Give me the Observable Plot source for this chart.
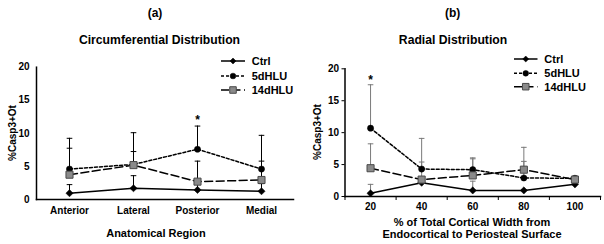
<!DOCTYPE html>
<html><head><meta charset="utf-8">
<script src="https://cdn.jsdelivr.net/npm/d3@7"></script>
<script src="https://cdn.jsdelivr.net/npm/@observablehq/plot@0.6"></script>
<style>
body{margin:0;background:#fff;}
#root{position:relative;width:604px;height:244px;overflow:hidden;font-family:"Liberation Sans",Arial,sans-serif;}
#root > svg{position:absolute;top:0;}
</style></head><body><div id="root"></div>
<script>
// ---- Panel (a): circumferential distribution
const regions = ["Anterior", "Lateral", "Posterior", "Medial"];
const ctrlA = [0.95, 1.7, 1.45, 1.25];
const ctrlAUpper = [2.25, 3.6, 2.5, 2.4];
const d5A = [4.6, 5.3, 7.6, 4.6];
const d5AUpper = [9.25, 10.1, 11.1, 9.7];
const d14A = [3.75, 5.2, 2.7, 2.95];
const d14AUpper = [7.75, 7.25, 5.8, 5.8];
const starA = ["Posterior"];

// ---- Panel (b): radial distribution
const widths = [20, 40, 60, 80, 100];
const ctrlB = [0.5, 2.15, 0.95, 0.95, 1.9];
const ctrlBUpper = [1.9, 2.5, 2.4, 1.1, 2.2];
const d5B = [10.7, 4.3, 4.2, 2.9, 2.85];
const d5BUpper = [17.5, 9.1, 6.05, 5.5, 3.2];
const d14B = [4.43, 2.65, 3.3, 4.2, 2.65];
const d14BUpper = [8.25, 5.4, 5.9, 7.7, 3.0];
const starB = [20];

const yTicks = [0, 5, 10, 15, 20];
const xBoundTicks = [10, 30, 50, 70, 90, 110];
const seriesNames = ["Ctrl", "5dHLU", "14dHLU"];

function build(xs, sets) {
  const out = [];
  sets.forEach(([name, m, u]) => xs.forEach((x, i) => out.push({series: name, x, mean: m[i], upper: u[i]})));
  return out;
}
const dataA = build(regions, [["Ctrl", ctrlA, ctrlAUpper], ["5dHLU", d5A, d5AUpper], ["14dHLU", d14A, d14AUpper]]);
const dataB = build(widths, [["Ctrl", ctrlB, ctrlBUpper], ["5dHLU", d5B, d5BUpper], ["14dHLU", d14B, d14BUpper]]);

const FONT = "'Liberation Sans', Arial, sans-serif";
const capSym = {draw(ctx, size) { const r = Math.sqrt(size / Math.PI); ctx.moveTo(-r, 0); ctx.lineTo(r, 0); }};
const diamondSym = {draw(ctx, size) { const r = Math.sqrt(size / Math.PI); ctx.moveTo(0, -r); ctx.lineTo(r, 0); ctx.lineTo(0, r); ctx.lineTo(-r, 0); ctx.closePath(); }};

const style = {
  Ctrl: {dash: null, symbol: diamondSym, r: 3.6, fill: "#000", stroke: "#000", sw: 0.5},
  "5dHLU": {dash: "3,2", symbol: "circle", r: 3.1, fill: "#000", stroke: "#000", sw: 0.5},
  "14dHLU": {dash: "8,3.5", symbol: "square", r: 4, fill: "#8a8a8a", stroke: "#4a4a4a", sw: 1}
};

function seriesMarks(data, errColor) {
  const marks = [];
  marks.push(Plot.ruleX(data, {x: "x", y1: "mean", y2: "upper", stroke: errColor, strokeWidth: 1}));
  marks.push(Plot.dot(data, {x: "x", y: "upper", symbol: capSym, r: 2.8, stroke: errColor, strokeWidth: 1, fill: "none"}));
  for (const s of seriesNames) {
    const d = data.filter(r => r.series === s);
    marks.push(Plot.line(d, {x: "x", y: "mean", stroke: "#000", strokeWidth: 1.5, strokeDasharray: style[s].dash}));
  }
  for (const s of seriesNames) {
    const d = data.filter(r => r.series === s);
    const st = style[s];
    marks.push(Plot.dot(d, {x: "x", y: "mean", symbol: st.symbol, r: st.r, fill: st.fill, stroke: st.stroke, strokeWidth: st.sw}));
  }
  return marks;
}

const plotStyle = {fontFamily: FONT, fontSize: "10px", fontWeight: "bold", color: "#000", background: "transparent", overflow: "visible"};

const chartA = Plot.plot({
  width: 300, height: 244,
  marginLeft: 36, marginRight: 7, marginTop: 66.7, marginBottom: 45,
  style: plotStyle,
  x: {type: "point", domain: regions, padding: 0.5, axis: null},
  y: {domain: [0, 20], axis: null},
  marks: [
    Plot.axisY({ticks: yTicks, tickSize: 0, tickPadding: 7, label: null}),
    Plot.axisX({tickSize: 0, tickPadding: 7, label: null}),
    ...seriesMarks(dataA, "#000"),
    Plot.text(dataA.filter(d => d.series === "5dHLU" && starA.includes(d.x)), {x: "x", y: "upper", text: () => "*", fontSize: 12, dy: -5.5}),
    Plot.frame({anchor: "left", strokeWidth: 1.5}),
    Plot.frame({anchor: "bottom", strokeWidth: 1.5})
  ]
});

const chartB = Plot.plot({
  width: 304, height: 244,
  marginLeft: 44.5, marginRight: 4, marginTop: 68.3, marginBottom: 48,
  style: plotStyle,
  x: {domain: [10, 110], axis: null},
  y: {domain: [0, 20], axis: null},
  marks: [
    Plot.axisY({ticks: yTicks, tickSize: 3, tickPadding: 3, label: null}),
    Plot.axisX({ticks: xBoundTicks, tickSize: 4, tickFormat: () => "", label: null}),
    Plot.axisX({ticks: widths, tickSize: 0, tickPadding: 6, label: null}),
    ...seriesMarks(dataB, "#7a7a7a"),
    Plot.text(dataB.filter(d => d.series === "5dHLU" && starB.includes(d.x)), {x: "x", y: "upper", text: () => "*", fontSize: 12, dy: -5}),
    Plot.frame({anchor: "left", strokeWidth: 1.5}),
    Plot.frame({anchor: "bottom", strokeWidth: 1.5})
  ]
});

const root = document.getElementById("root");
chartA.style.left = "0px";
chartB.style.left = "300px";
chartA.style.position = "absolute";
chartB.style.position = "absolute";
root.appendChild(chartA);
root.appendChild(chartB);

// ---- overlay: titles, axis titles, legends
const ov = d3.select(root).append("svg").attr("width", 604).attr("height", 244)
  .style("position", "absolute").style("left", "0px").style("top", "0px")
  .attr("font-family", FONT).attr("font-weight", "bold");

function label(x, y, text, size, rotate) {
  const t = ov.append("text").attr("text-anchor", "middle").attr("dominant-baseline", "central")
    .attr("font-size", size).text(text);
  if (rotate) t.attr("transform", `translate(${x},${y}) rotate(${rotate})`);
  else t.attr("x", x).attr("y", y);
}
label(155, 12.5, "(a)", 12);
label(159.5, 40, "Circumferential Distribution", 12.2);
label(156, 232.5, "Anatomical Region", 11);
label(12.5, 133, "%Casp3+Ot", 10, -90);
label(452.7, 12.7, "(b)", 12);
label(453, 40, "Radial Distribution", 12.2);
label(472, 221.5, "% of Total Cortical Width from", 11);
label(472, 233.5, "Endocortical to Periosteal Surface", 11);
label(317, 132, "%Casp3+Ot", 10, -90);

function legend(x1, x2, tx, ys) {
  seriesNames.forEach((s, i) => {
    const st = style[s], y = ys[i], cx = (x1 + x2) / 2;
    ov.append("line").attr("x1", x1).attr("x2", x2).attr("y1", y).attr("y2", y)
      .attr("stroke", "#000").attr("stroke-width", 1.5).attr("stroke-dasharray", st.dash);
    const sym = typeof st.symbol === "string" ? (st.symbol === "circle" ? d3.symbolCircle : d3.symbolSquare) : st.symbol;
    ov.append("path").attr("d", d3.symbol(sym, st.r * st.r * Math.PI * (s === "Ctrl" ? 0.7 : 0.85))())
      .attr("transform", `translate(${cx},${y})`).attr("fill", st.fill).attr("stroke", st.stroke).attr("stroke-width", st.sw);
    ov.append("text").attr("x", tx).attr("y", y).attr("dominant-baseline", "central").attr("font-size", 11).text(s);
  });
}
legend(221, 245, 251.7, [61, 76, 90]);
legend(514, 537.5, 544.3, [59, 73.3, 86.7]);
</script></body></html>
